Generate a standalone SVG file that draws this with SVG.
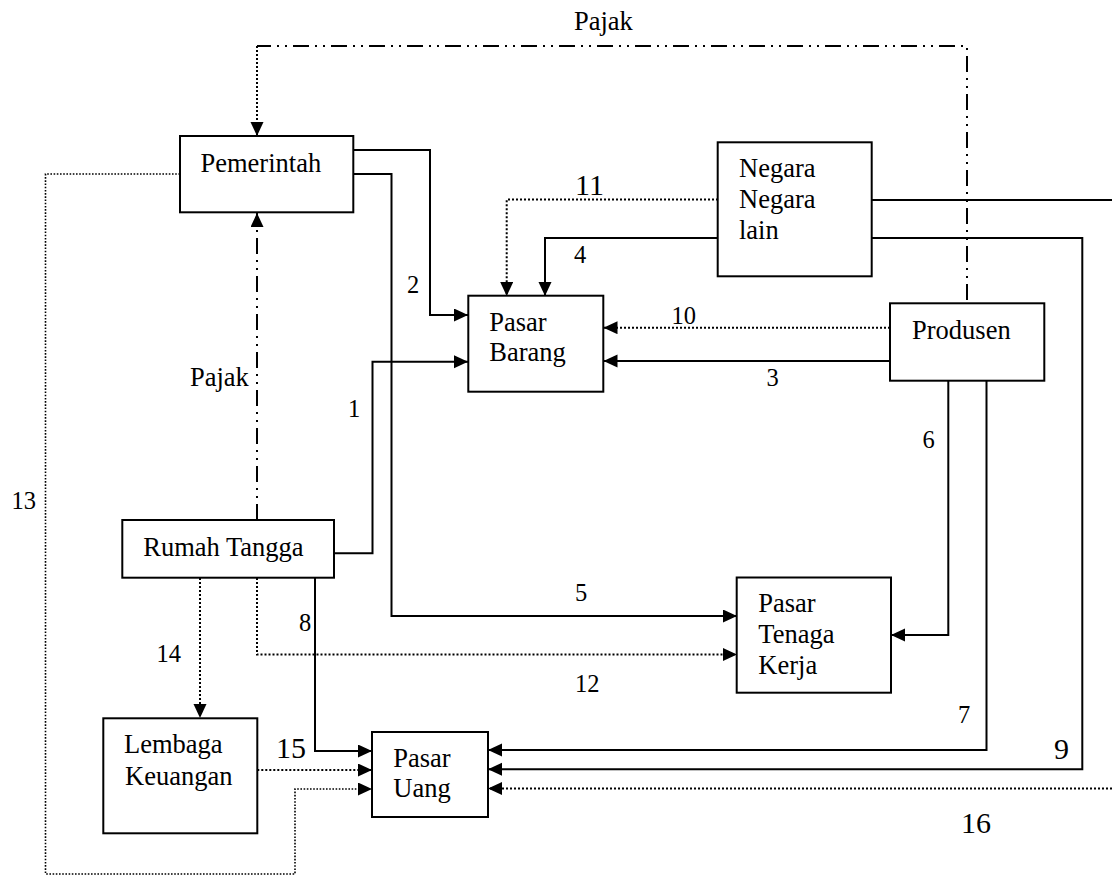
<svg xmlns="http://www.w3.org/2000/svg" width="1112" height="877" viewBox="0 0 1112 877">
<defs>
<style>
.box{fill:#fff;stroke:#000;stroke-width:2}
.t{font-family:"Liberation Serif","Times New Roman",serif;font-size:26.5px;fill:#000}
.n{font-family:"Liberation Serif","Times New Roman",serif;font-size:24.5px;fill:#000}
.nb{font-family:"Liberation Serif","Times New Roman",serif;font-size:30px;fill:#000}
.s{fill:none;stroke:#000;stroke-width:2}
.d{fill:none;stroke:#000;stroke-width:2;stroke-dasharray:2 2}
.dt{fill:none;stroke:#000;stroke-width:1.6;stroke-dasharray:1.6 1.6}
.dd{fill:none;stroke:#000;stroke-width:2;stroke-dasharray:16 6 2 6 2 6}
</style>
<marker id="a" markerUnits="userSpaceOnUse" markerWidth="15" markerHeight="14" refX="14" refY="6.5" orient="auto">
<path d="M0,0 L14,6.5 L0,13 z" fill="#000" stroke="none"/>
</marker>
</defs>
<rect width="1112" height="877" fill="#fff"/>
<g id="connectors">
<path class="dd" d="M967,300 V46 H257"/>
<path class="d" d="M257,46 V136" marker-end="url(#a)"/>
<path class="dd" d="M257,520 V213" marker-end="url(#a)"/>
<path class="s" d="M353,150 H430 V315 H468" marker-end="url(#a)"/>
<path class="s" d="M353,174 H391.5 V616 H737" marker-end="url(#a)"/>
<path class="dt" d="M180,174 H45.5 V874 H295 V789 H372" marker-end="url(#a)"/>
<path class="d" d="M718,199.5 H506.7 V296" marker-end="url(#a)"/>
<path class="s" d="M718,238 H545 V296" marker-end="url(#a)"/>
<path class="s" d="M872,200 H1112"/>
<path class="s" d="M872,238 H1082.3 V769.3 H488" marker-end="url(#a)"/>
<path class="d" d="M890,327.7 H603.5" marker-end="url(#a)"/>
<path class="s" d="M890,361 H603.5" marker-end="url(#a)"/>
<path class="s" d="M334,553.3 H372.5 V361.7 H468" marker-end="url(#a)"/>
<path class="s" d="M948.3,381 V635 H891" marker-end="url(#a)"/>
<path class="s" d="M986.5,381 V750 H488" marker-end="url(#a)"/>
<path class="s" d="M315,578 V751 H372" marker-end="url(#a)"/>
<path class="d" d="M200,578 V718" marker-end="url(#a)"/>
<path class="d" d="M257,578 V654.5 H737" marker-end="url(#a)"/>
<path class="d" d="M257.3,770 H372" marker-end="url(#a)"/>
<path class="d" d="M1112,788.5 H488" marker-end="url(#a)"/>
</g>
<g id="labels">
<text class="t" x="574" y="30">Pajak</text>
<text class="t" x="190" y="386">Pajak</text>
<text class="n" x="407" y="293">2</text>
<text class="n" x="348" y="416.5">1</text>
<text class="n" x="574" y="263">4</text>
<text class="nb" x="575" y="195">11</text>
<text class="n" x="671.5" y="324">10</text>
<text class="n" x="766.5" y="385.5">3</text>
<text class="n" x="922.5" y="447.5">6</text>
<text class="n" x="11.5" y="508.5">13</text>
<text class="n" x="575" y="600.5">5</text>
<text class="n" x="299" y="630.5">8</text>
<text class="n" x="156.5" y="661.5">14</text>
<text class="n" x="575" y="691.5">12</text>
<text class="n" x="958" y="723">7</text>
<text class="nb" x="1054" y="758.5">9</text>
<text class="nb" x="276" y="758">15</text>
<text class="nb" x="961" y="832.5">16</text>
</g>
<g id="pemerintah">
<rect class="box" x="180" y="136" width="173.3" height="76.3"/>
<text class="t" x="200.5" y="171.5">Pemerintah</text>
</g>
<g id="negara">
<rect class="box" x="717.7" y="142.3" width="154" height="134"/>
<text class="t" x="739" y="176.5">Negara</text>
<text class="t" x="739" y="208">Negara</text>
<text class="t" x="739" y="239">lain</text>
</g>
<g id="pasar-barang">
<rect class="box" x="468.3" y="295.7" width="135" height="96"/>
<text class="t" x="489.3" y="331">Pasar</text>
<text class="t" x="489.3" y="360.5">Barang</text>
</g>
<g id="produsen">
<rect class="box" x="890" y="303.3" width="154.3" height="77.4"/>
<text class="t" x="912" y="339.3">Produsen</text>
</g>
<g id="rumah-tangga">
<rect class="box" x="122.3" y="520" width="211.7" height="57.7"/>
<text class="t" x="143.3" y="556">Rumah Tangga</text>
</g>
<g id="pasar-tenaga-kerja">
<rect class="box" x="736.7" y="577.5" width="154.3" height="115.2"/>
<text class="t" x="758.3" y="611.7">Pasar</text>
<text class="t" x="758.3" y="642.5">Tenaga</text>
<text class="t" x="758.3" y="674">Kerja</text>
</g>
<g id="lembaga-keuangan">
<rect class="box" x="103.3" y="718.3" width="154" height="115"/>
<text class="t" x="124" y="753.3">Lembaga</text>
<text class="t" x="125" y="785">Keuangan</text>
</g>
<g id="pasar-uang">
<rect class="box" x="372" y="732" width="116" height="85"/>
<text class="t" x="393.3" y="766.7">Pasar</text>
<text class="t" x="393.3" y="797.3">Uang</text>
</g>
</svg>
